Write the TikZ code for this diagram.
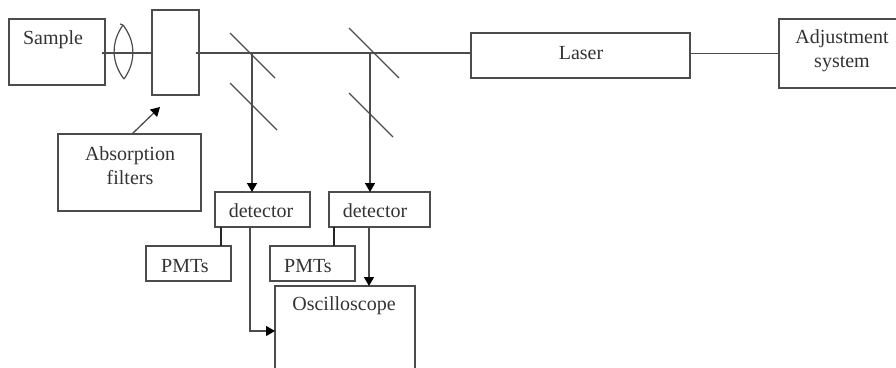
\documentclass[tikz,border=0pt]{standalone}
\usepackage{fontspec}
\setmainfont{Liberation Serif}
\usetikzlibrary{arrows.meta}
\definecolor{ink}{gray}{0.3}
\definecolor{txt}{gray}{0.2}
\tikzset{
  x=1pt,y=-1pt,
  box/.style={draw=ink,line width=1.5pt,inner sep=0pt,outer sep=0pt,anchor=north west},
  beam/.style={draw=ink,line width=1.3pt},
  mirror/.style={draw=ink,line width=1.2pt},
  feed/.style={draw=ink,line width=1.5pt,-{Triangle[length=9pt,width=10pt,black]}},
  tie/.style={draw=black!85,line width=2.4pt},
  lbl/.style={text=txt,font=\fontsize{20}{24}\selectfont,align=center,inner sep=0pt}
}
\begin{document}
\begin{tikzpicture}
\useasboundingbox (0,0) rectangle (896,367);
\clip (0,0) rectangle (896,367);
% boxes
\node[box,minimum width=96pt,minimum height=66pt] (sample) at (9,19) {};
\node[lbl] (sampletext) at (53,40) {Sample};
\node[box,minimum width=47pt,minimum height=85pt] (filter) at (152,10) {};
\node[box,minimum width=143pt,minimum height=77pt] (absorb) at (58,134) {};
\node[lbl] (absorbtext) at (130,166) {Absorption\\filters};
\node[box,minimum width=219pt,minimum height=45pt] (laser) at (471,33) {};
\node[lbl] (lasertext) at (581,53) {Laser};
\node[box,minimum width=140pt,minimum height=69pt] (adjust) at (779,19) {};
\node[lbl] (adjusttext) at (842,51) {Adjustment\\system};
\node[box,minimum width=95pt,minimum height=35pt] (det1) at (215,192) {};
\node[lbl] (det1text) at (261,211) {detector};
\node[box,minimum width=101pt,minimum height=35pt] (det2) at (329,192) {};
\node[lbl] (det2text) at (375,211) {detector};
\node[box,minimum width=85pt,minimum height=35pt] (pmt1) at (146,246) {};
\node[lbl] (pmt1text) at (185,266) {PMTs};
\node[box,minimum width=85pt,minimum height=35pt] (pmt2) at (270,246) {};
\node[lbl] (pmt2text) at (308,266) {PMTs};
\node[box,minimum width=140pt,minimum height=120pt] (osc) at (275,286) {};
\node[lbl] (osctext) at (344,306) {Oscilloscope};
% points on the beam
\coordinate (sampleout) at (102,53);
\coordinate (filterout) at (196,53);
\coordinate (laserout) at (690,53.6);
\coordinate (split1) at (252,53);
\coordinate (split2) at (370,53);
\coordinate (lenstop) at (123,25);
\coordinate (lensbot) at (124,79);
\coordinate (m1a) at (230,33);
\coordinate (m1b) at (275,78);
\coordinate (m2a) at (230,83);
\coordinate (m2b) at (277,130);
\coordinate (m3a) at (349,28);
\coordinate (m3b) at (399,78);
\coordinate (m4a) at (349,93);
\coordinate (m4b) at (393,137);
\coordinate (filterpoint) at (160,107);
\coordinate (absorbout) at (132,134);
\coordinate (pmt1top) at (221,227);
\coordinate (pmt2top) at (334,227);
\coordinate (signal1) at (250,227);
\coordinate (signal2) at (369,227);
\coordinate (oscin) at (275,331);
% beam
\draw[beam] (sampleout) -- (filter.west |- sampleout);
\draw[beam] (filterout) -- (laser.west |- filterout);
\draw[beam] (laserout) -- (adjust.west |- laserout);
% lens
\draw[mirror] (lenstop) .. controls (111,42) and (111,62) .. (lensbot);
\draw[mirror] (lenstop) .. controls (136,42) and (136,62) .. (lensbot);
\draw[mirror] (120,24) -- (lenstop);
% mirrors
\draw[mirror] (m1a) -- (m1b);
\draw[mirror] (m2a) -- (m2b);
\draw[mirror] (m3a) -- (m3b);
\draw[mirror] (m4a) -- (m4b);
% arrows
\draw[feed] (split1) -- (split1 |- det1.north);
\draw[feed] (split2) -- (split2 |- det2.north);
\draw[feed,line width=1.3pt] (absorbout) -- (filterpoint);
\draw[tie] (pmt1top) -- (pmt1top |- pmt1.north);
\draw[tie] (pmt2top) -- (pmt2top |- pmt2.north);
\draw[feed] (signal2) -- (signal2 |- osc.north);
\draw[feed,line width=1.3pt] (signal1) |- (oscin);
\end{tikzpicture}
\end{document}
